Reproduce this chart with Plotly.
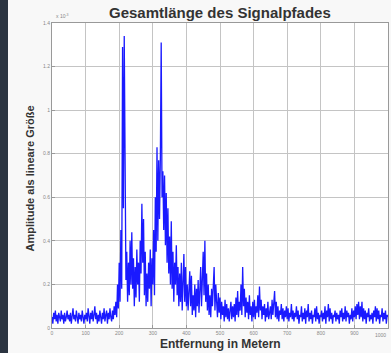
import plotly.graph_objects as go

# Amplitude values in units of 1e-3, sampled every 2.5 m from 0 to 1000 m
distance_step_m = 2.5
amplitude_e3 = [
    # 0-47.5
    0.05,0.02,0.07,0.04,0.08,0.03,0.06,0.02,0.07,0.05,0.03,0.08,0.04,0.06,0.02,0.07,0.03,0.05,0.08,0.04,
    # 50-97.5
    0.06,0.03,0.07,0.02,0.05,0.09,0.04,0.06,0.03,0.08,0.05,0.02,0.07,0.04,0.06,0.03,0.08,0.05,0.02,0.06,
    # 100-147.5
    0.04,0.07,0.03,0.09,0.05,0.02,0.07,0.04,0.08,0.03,0.06,0.10,0.04,0.07,0.02,0.06,0.03,0.08,0.05,0.02,
    # 150-187.5
    0.07,0.04,0.09,0.03,0.06,0.08,0.02,0.07,0.04,0.09,0.05,0.03,0.08,0.04,0.10,0.06,
    # 190-
    0.12,0.05,0.20,0.09,
    0.30,0.12,0.45,0.18,
    1.29,0.55,1.34,0.40,
    0.22,0.35,0.12,0.30,
    0.15,0.40,0.20,0.44,
    0.18,0.32,0.10,0.28,
    0.14,0.36,0.20,0.30,
    0.12,0.40,0.25,0.57,
    0.30,0.50,0.15,0.35,
    0.10,0.25,0.12,0.30,
    0.18,0.36,0.10,0.32,
    0.20,0.45,0.15,0.60,
    0.35,0.83,0.40,0.77,
    0.50,0.78,1.31,0.60,
    0.72,0.45,0.70,0.38,
    0.62,0.30,0.55,0.25,
    0.42,0.20,0.49,0.18,
    0.35,0.12,0.30,0.20,
    0.38,0.15,0.28,0.10,
    0.25,0.12,0.30,0.08,
    0.22,0.34,0.12,0.28,
    0.10,0.20,0.08,0.18,
    0.26,0.10,0.24,0.06,
    0.15,0.08,0.20,0.05,
    0.18,0.10,0.22,0.07,
    0.16,0.28,0.10,0.25,
    0.35,0.15,0.40,0.12,
    0.25,0.08,0.20,0.06,
    0.15,0.05,0.18,0.10,
    0.22,0.28,0.08,0.20,
    0.12,0.05,0.16,0.07,
    0.14,0.04,0.12,0.06,
    0.10,0.03,0.13,0.05,
    0.11,0.04,0.09,0.03,
    0.08,0.12,0.04,0.10,
    0.05,0.11,0.03,0.14,
    0.06,0.17,0.05,0.12,
    0.08,0.20,0.06,0.28,
    0.10,0.18,0.05,0.14,
    0.07,0.12,0.04,0.15,
    0.06,0.10,0.03,0.12,
    0.05,0.13,0.04,0.10,
    0.07,0.15,0.05,0.19,
    0.08,0.13,0.04,0.10,
    0.06,0.11,0.03,0.09,
    0.05,0.12,0.04,0.08,
    0.10,0.04,0.13,0.06,
    0.11,0.17,0.05,0.12,
    0.04,0.10,0.03,0.08,
    0.06,0.11,0.04,0.09,
    0.03,0.08,0.05,0.10,
    0.04,0.09,0.03,0.07,
    0.05,0.11,0.04,0.08,
    0.03,0.07,0.05,0.10,
    0.04,0.08,0.02,0.06,
    0.05,0.10,0.03,0.07,
    0.04,0.09,0.02,0.08,
    0.05,0.11,0.03,0.07,
    0.04,0.08,0.02,0.06,
    0.05,0.09,0.03,0.10,
    0.04,0.07,0.02,0.06,
    0.05,0.08,0.03,0.07,
    0.04,0.10,0.02,0.08,
    0.05,0.11,0.03,0.09,
    0.04,0.07,0.02,0.06,
    0.05,0.08,0.03,0.07,
    0.04,0.06,0.02,0.08,
    0.05,0.09,0.03,0.07,
    0.04,0.10,0.03,0.08,
    0.05,0.07,0.02,0.06,
    0.04,0.09,0.03,0.08,
    0.05,0.10,0.04,0.11,
    0.06,0.12,0.04,0.10,
    0.05,0.12,0.03,0.09,
    0.04,0.08,0.02,0.07,
    0.05,0.09,0.03,0.06,
    0.04,0.07,0.02,0.08,
    0.05,0.10,0.03,0.09,
    0.04,0.08,0.02,0.06,
    0.05,0.09,0.03,0.07,
    0.04,0.08,0.02,0.06,
    0.05,
]
distance_m = [i * distance_step_m for i in range(len(amplitude_e3))]

x_tick_vals = [0, 100, 200, 300, 400, 500, 600, 700, 800, 900, 1000]
y_tick_vals = [0, 0.2, 0.4, 0.6, 0.8, 1.0, 1.2, 1.4]
y_tick_text = ["0", "0.2", "0.4", "0.6", "0.8", "1", "1.2", "1.4"]

title_text = "Gesamtlänge des Signalpfades"
x_label = "Entfernung in Metern"
y_label = "Amplitude als lineare Größe"

fig = go.Figure()
fig.add_trace(go.Scatter(
    x=distance_m, y=amplitude_e3, mode="lines",
    line=dict(color="#1a1aff", width=1.3), showlegend=False,
))

W, H = 391, 353
ml, mr, mt, mb = 52, 3, 23, 25
pw = W - ml - mr
ph = H - mt - mb

tick_font = dict(size=5, color="#888")

fig.update_layout(
    width=W, height=H,
    margin=dict(l=ml, r=mr, t=mt, b=mb),
    paper_bgcolor="#f8f8f8", plot_bgcolor="white",
    font=dict(family="Liberation Sans, Arial", color="#333"),
    xaxis=dict(range=[0, 1000], tickvals=x_tick_vals, showgrid=True,
               gridcolor="#c4c4c4", gridwidth=1, zeroline=False,
               showline=True, linecolor="#999", mirror=True,
               ticks="inside", ticklen=3, tickcolor="#999",
               tickfont=tick_font),
    yaxis=dict(range=[0, 1.4], tickvals=y_tick_vals, ticktext=y_tick_text,
               showgrid=True, gridcolor="#c4c4c4", gridwidth=1, zeroline=False,
               showline=True, linecolor="#999", mirror=True,
               ticks="inside", ticklen=3, tickcolor="#999",
               tickfont=tick_font),
    annotations=[
        dict(text="<b>" + title_text + "</b>", xref="paper", yref="paper",
             x=0.5, y=1 + 10 / ph, xanchor="center", yanchor="middle",
             showarrow=False, font=dict(size=15, color="#333")),
        dict(text="<b>" + x_label + "</b>", xref="paper", yref="paper",
             x=0.5, y=-16 / ph, xanchor="center", yanchor="middle",
             showarrow=False, font=dict(size=12, color="#333")),
        dict(text="<b>" + y_label + "</b>", xref="paper", yref="paper",
             x=-22 / pw, y=0.49, xanchor="center", yanchor="middle", textangle=-90,
             showarrow=False, font=dict(size=11, color="#333")),
        dict(text="x 10<sup>-3</sup>", xref="paper", yref="paper",
             x=2 / pw, y=1 + 2 / ph, xanchor="left", yanchor="bottom",
             showarrow=False, font=dict(size=5, color="#888")),
        dict(text=str(x_tick_vals[-1]), xref="x", yref="paper",
             x=x_tick_vals[-1], y=-2 / ph, xanchor="right", yanchor="top",
             showarrow=False, font=tick_font),
    ],
    shapes=[
        dict(type="rect", xref="paper", yref="paper",
             x0=-ml / pw, x1=(8 - ml) / pw, y0=-mb / ph, y1=1 + mt / ph,
             fillcolor="#2b3440", line=dict(width=0), layer="above"),
    ],
)

fig.write_html(
    "out.html",
    config={"displayModeBar": False},
    post_script="document.body.style.margin='0';document.body.style.overflow='hidden';",
)
